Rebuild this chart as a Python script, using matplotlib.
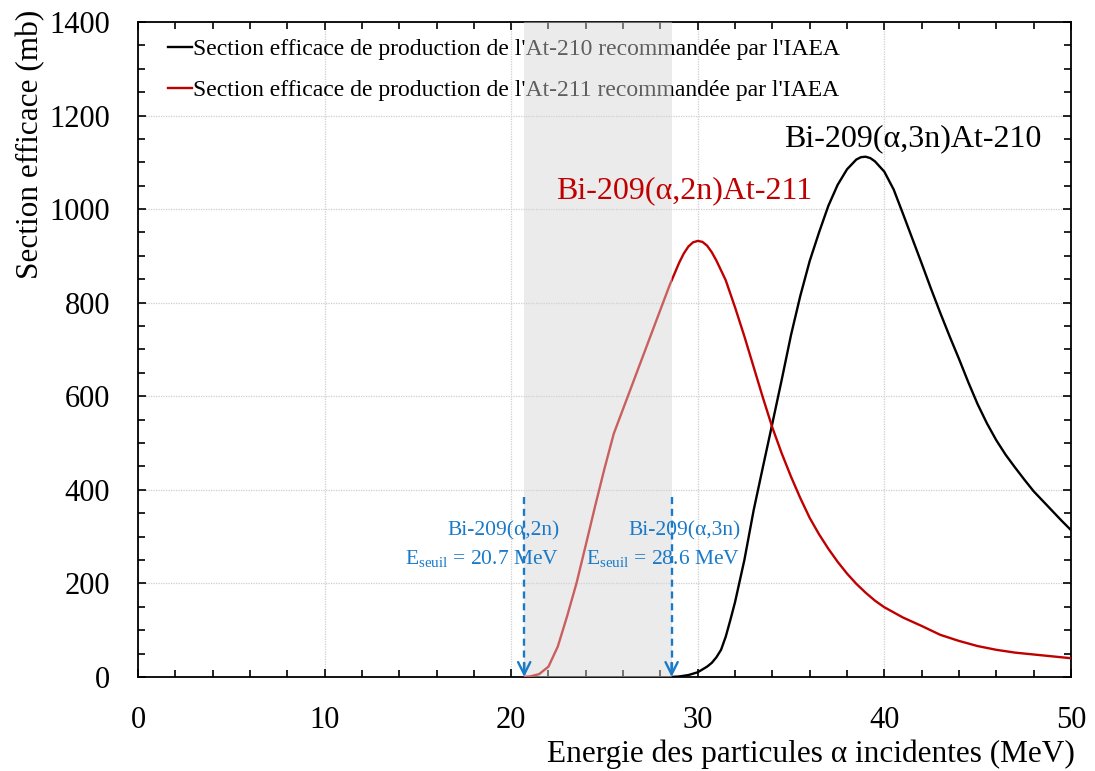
import numpy as np
import matplotlib
matplotlib.use("Agg")
import matplotlib.pyplot as plt
from matplotlib.ticker import MultipleLocator

plt.rcParams["font.family"] = ["Liberation Serif", "DejaVu Serif"]
plt.rcParams["mathtext.fontset"] = "custom"
plt.rcParams["mathtext.rm"] = "Liberation Serif"

# IAEA recommended cross sections
e_210 = [28.6, 29.0, 29.5, 30.0, 30.5, 30.75, 31.0, 31.25, 31.5, 31.75, 32.0, 32.5,
         33.0, 33.5, 34.0, 34.5, 35.0, 35.5, 36.0, 36.5, 37.0, 37.5, 38.0, 38.5,
         38.75, 39.0, 39.25, 39.5, 40.0, 40.5, 41.0, 41.5, 42.0, 42.5, 43.0, 43.5,
         44.0, 44.5, 45.0, 45.5, 46.0, 46.5, 47.0, 47.5, 48.0, 48.5, 49.0, 49.5, 50.0]
sigma_210 = [0, 1, 4, 10, 22, 30, 42, 58, 86, 122, 160, 250,
             357, 450, 542, 635, 731, 815, 889, 950, 1007, 1052, 1085, 1106,
             1111, 1112, 1109, 1102, 1080, 1042, 990, 937, 884, 830, 778, 728,
             680, 630, 583, 542, 506, 475, 448, 422, 397, 376, 355, 334, 314]

e_211 = [20.7, 21.0, 21.5, 22.0, 22.5, 23.0, 23.5, 24.0, 24.5, 25.0, 25.5, 26.0,
         26.5, 27.0, 27.5, 28.0, 28.5, 29.0, 29.25, 29.5, 29.75, 30.0, 30.25, 30.5,
         30.75, 31.0, 31.5, 32.0, 32.5, 33.0, 33.5, 34.0, 34.5, 35.0, 35.5, 36.0,
         36.5, 37.0, 37.5, 38.0, 38.5, 39.0, 39.5, 40.0, 41.0, 42.0, 43.0, 44.0,
         45.0, 46.0, 47.0, 48.0, 49.0, 50.0]
sigma_211 = [0, 1, 6, 22, 65, 130, 200, 282, 365, 445, 520, 573,
             626, 679, 732, 785, 838, 885, 905, 920, 929, 932, 930, 922,
             908, 890, 848, 790, 728, 662, 596, 533, 478, 428, 382, 340,
             305, 274, 246, 221, 199, 180, 163, 149, 127, 109, 90, 77,
             66, 58, 52, 48, 44, 40]

thresholds = [20.7, 28.6]
threshold_labels = ["Bi-209(\u03b1,2n)", "Bi-209(\u03b1,3n)"]

leg_210 = "Section efficace de production de l'At-210 recommand\u00e9e par l'IAEA"
leg_211 = "Section efficace de production de l'At-211 recommand\u00e9e par l'IAEA"

blue = "#1a7ac8"
red = "#c00000"

fig = plt.figure(figsize=(10.95, 7.71), dpi=100)
ax = fig.add_axes([0.126, 0.122, 0.852, 0.8495])

ax.plot(e_210, sigma_210, color="black", lw=1.7, label=leg_210, zorder=3)
ax.plot(e_211, sigma_211, color=red, lw=1.7, label=leg_211, zorder=3)

leg = ax.legend(loc="upper left", bbox_to_anchor=(0.015, 1.0), frameon=False,
                fontsize=17, handlelength=1.0, handletextpad=0.05,
                labelspacing=0.83, borderaxespad=0.3)
leg.set_zorder(4)

# shaded zone between the two thresholds, drawn over curves and legend
ax.axvspan(thresholds[0], thresholds[1], color="#d4d4d4", alpha=0.45, lw=0, zorder=5)

ax.text(41.5, 1150, "Bi-209(\u03b1,3n)At-210", color="black", fontsize=23,
        ha="center", va="center", zorder=7)
ax.text(22.4, 1040, "Bi-209(\u03b1,2n)At-211", color=red, fontsize=23,
        ha="left", va="center", zorder=7)

text_x = [22.6, 32.3]
for e, tx, lab in zip(thresholds, text_x, threshold_labels):
    ax.plot([e, e], [385, 12], color=blue, lw=1.7, ls=(0, (3, 2)), zorder=6)
    ax.annotate("", xy=(e, 0), xytext=(e, 30),
                arrowprops=dict(arrowstyle="->", color=blue, lw=1.7,
                                mutation_scale=22, shrinkA=0, shrinkB=0),
                zorder=6)
    ax.text(tx, 312, lab, color=blue, fontsize=15.5, ha="right", va="center", zorder=7)
    ax.text(tx, 251, r"E$_{\rm seuil}$ = %.1f MeV" % e, color=blue, fontsize=15.5,
            ha="right", va="center", zorder=7)

ax.set_xlim(0, 50)
ax.set_ylim(0, 1400)
ax.xaxis.set_major_locator(MultipleLocator(10))
ax.xaxis.set_minor_locator(MultipleLocator(2))
ax.yaxis.set_major_locator(MultipleLocator(200))
ax.yaxis.set_minor_locator(MultipleLocator(50))
ax.tick_params(which="both", direction="in", top=True, right=True,
               width=1.2, colors="black", labelsize=22)
ax.tick_params(which="major", length=6)
ax.tick_params(which="minor", length=5)
ax.tick_params(axis="x", which="major", pad=21)
ax.tick_params(axis="y", which="major", pad=20)
ax.grid(True, which="major", color="#cfcfcf", ls=(0, (1, 1)), lw=0.9, zorder=0)
ax.set_axisbelow(True)
for s in ax.spines.values():
    s.set_linewidth(1.3)

ax.set_xlabel("Energie des particules \u03b1 incidentes (MeV)", fontsize=22.5,
              ha="right")
ax.xaxis.set_label_coords(1.004, -0.095)
ax.set_ylabel("Section efficace (mb)", fontsize=22.5, ha="right")
ax.yaxis.set_label_coords(-0.099, 1.018)

fig.savefig("out.png", dpi=100)
